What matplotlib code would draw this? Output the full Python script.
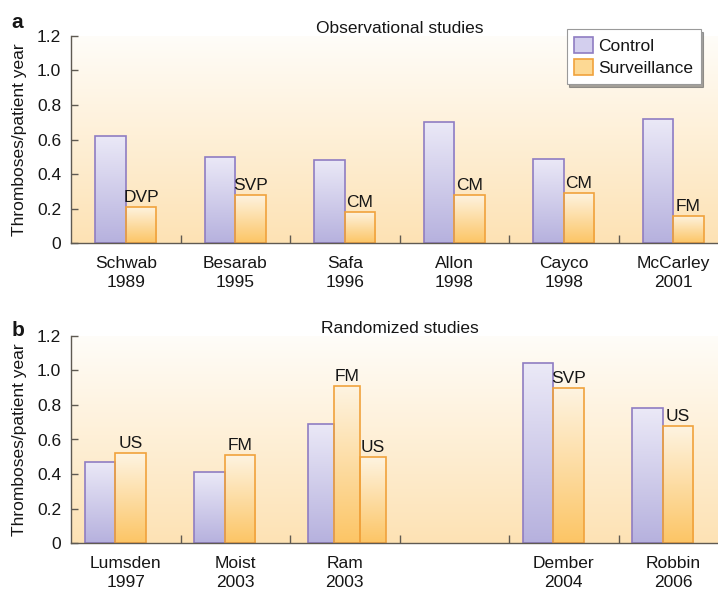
import numpy as np
import matplotlib
matplotlib.use("Agg")
import matplotlib.pyplot as plt
from matplotlib.colors import LinearSegmentedColormap
from matplotlib.patches import Patch

plt.rcParams['font.family'] = ['Liberation Sans', 'DejaVu Sans']

# ---------------- data ----------------
obs_studies = ['Schwab\n1989', 'Besarab\n1995', 'Safa\n1996', 'Allon\n1998', 'Cayco\n1998', 'McCarley\n2001']
obs_control = [0.62, 0.50, 0.48, 0.70, 0.49, 0.72]
obs_surv = [0.21, 0.28, 0.18, 0.28, 0.29, 0.16]
obs_method = ['DVP', 'SVP', 'CM', 'CM', 'CM', 'FM']

rand_studies = ['Lumsden\n1997', 'Moist\n2003', 'Ram\n2003', '', 'Dember\n2004', 'Robbin\n2006']
rand_control = [0.47, 0.41, 0.69, None, 1.04, 0.78]
rand_surv = [0.52, 0.51, 0.91, None, 0.90, 0.68]
rand_method = ['US', 'FM', 'FM', None, 'SVP', 'US']
rand_surv2 = [None, None, 0.50, None, None, None]
rand_method2 = [None, None, 'US', None, None, None]

yticks = [0, 0.2, 0.4, 0.6, 0.8, 1.0, 1.2]
ytick_labels = ['0', '0.2', '0.4', '0.6', '0.8', '1.0', '1.2']

# ---------------- style ----------------
CTRL_TOP, CTRL_BOT, CTRL_EDGE = '#ebe9f7', '#b6b1de', '#8f7dc2'
SURV_TOP, SURV_BOT, SURV_EDGE = '#fef4e2', '#fcc565', '#f0a23c'
BG_TOP, BG_BOT = '#fffdf9', '#fde2b4'
SPINE = '#5f5a52'
TXT = '#161616'
FS = 12.5


def grad_bar(ax, patch, top, bot):
    x, y = patch.get_x(), patch.get_y()
    w, h = patch.get_width(), patch.get_height()
    cmap = LinearSegmentedColormap.from_list('g', [bot, top])
    arr = np.linspace(0, 1, 256).reshape(-1, 1)
    im = ax.imshow(arr, extent=[x, x + w, y, y + h], origin='lower', cmap=cmap,
                   aspect='auto', zorder=2, interpolation='bilinear')
    im.set_clip_path(patch)
    patch.set_facecolor('none')
    patch.set_zorder(3)


def draw_bar(ax, x, h, w, top, bot, edge, label=None):
    bc = ax.bar([x], [h], width=w, edgecolor=edge, linewidth=1.2, zorder=3)
    grad_bar(ax, bc[0], top, bot)
    if label:
        ax.annotate(label, (x, h), xytext=(0, 1.5), textcoords='offset points',
                    ha='center', va='bottom', fontsize=FS, color=TXT, zorder=5)


def style_axes(ax, cats, title):
    cmap = LinearSegmentedColormap.from_list('bg', [BG_BOT, BG_TOP])
    arr = np.linspace(0, 1, 256).reshape(-1, 1)
    ax.imshow(arr, extent=[0, 1, 0, 1], transform=ax.transAxes, origin='lower',
              cmap=cmap, aspect='auto', zorder=0)
    ax.set_facecolor('white')
    n = len(cats)
    ax.set_xlim(-0.5, n - 0.5)
    ax.set_ylim(0, 1.2)
    for s in ['top', 'right']:
        ax.spines[s].set_visible(False)
    for s in ['left', 'bottom']:
        ax.spines[s].set_color(SPINE)
        ax.spines[s].set_linewidth(1.0)
        ax.spines[s].set_zorder(4)
    ax.set_yticks(yticks)
    ax.set_yticklabels(ytick_labels)
    ax.tick_params(axis='y', direction='in', length=5, width=1, color=SPINE,
                   labelsize=FS, labelcolor=TXT, pad=7)
    ax.set_xticks(np.arange(n - 1) + 0.5)
    ax.set_xticklabels([])
    ax.tick_params(axis='x', which='major', direction='in', length=6, width=1, color=SPINE)
    ax.set_xticks(np.arange(n), minor=True)
    ax.set_xticklabels(cats, minor=True, linespacing=1.35)
    ax.tick_params(axis='x', which='minor', length=0, labelsize=FS, labelcolor=TXT, pad=9)
    ax.set_title(title, fontsize=FS, color=TXT, pad=2)


fig = plt.figure(figsize=(7.18, 5.90), dpi=100)
W, H = 718.0, 590.0
ax_a = fig.add_axes([71 / W, 346.7 / H, 657 / W, 207.6 / H])
ax_b = fig.add_axes([71 / W, 46.7 / H, 657 / W, 207.6 / H])

# panel a
wa = 0.278
for i in range(len(obs_studies)):
    draw_bar(ax_a, i - wa / 2, obs_control[i], wa, CTRL_TOP, CTRL_BOT, CTRL_EDGE)
    draw_bar(ax_a, i + wa / 2, obs_surv[i], wa, SURV_TOP, SURV_BOT, SURV_EDGE, obs_method[i])
style_axes(ax_a, obs_studies, 'Observational studies')

# panel b
wb = 0.279
wb3 = 0.237
off2 = -0.095
off3 = 0.02
for i in range(len(rand_studies)):
    if rand_control[i] is None:
        continue
    if rand_surv2[i] is None:
        c = i + off2
        draw_bar(ax_b, c - wb / 2, rand_control[i], wb, CTRL_TOP, CTRL_BOT, CTRL_EDGE)
        draw_bar(ax_b, c + wb / 2, rand_surv[i], wb, SURV_TOP, SURV_BOT, SURV_EDGE, rand_method[i])
    else:
        c = i + off3
        draw_bar(ax_b, c - wb3, rand_control[i], wb3, CTRL_TOP, CTRL_BOT, CTRL_EDGE)
        draw_bar(ax_b, c, rand_surv[i], wb3, SURV_TOP, SURV_BOT, SURV_EDGE, rand_method[i])
        draw_bar(ax_b, c + wb3, rand_surv2[i], wb3, SURV_TOP, SURV_BOT, SURV_EDGE, rand_method2[i])
style_axes(ax_b, rand_studies, 'Randomized studies')

# y labels
for yc in [139.5, 439.5]:
    fig.text(20 / W, 1 - yc / H, 'Thromboses/patient year', rotation=90,
             ha='center', va='center', fontsize=FS, color=TXT)

# panel letters
fig.text(17 / W, 1 - 23 / H, 'a', fontsize=15, fontweight='bold', ha='center', va='center', color=TXT)
fig.text(18 / W, 1 - 331 / H, 'b', fontsize=15, fontweight='bold', ha='center', va='center', color=TXT)

# legend
handles = [Patch(facecolor='#d3cfee', edgecolor=CTRL_EDGE, linewidth=1.2, label='Control'),
           Patch(facecolor='#fdd994', edgecolor=SURV_EDGE, linewidth=1.2, label='Surveillance')]
leg = fig.legend(handles=handles, loc='upper right', bbox_to_anchor=(700.7 / W, 1 - 29.3 / H),
                 fontsize=FS, frameon=True, fancybox=False, shadow=True,
                 handlelength=1.05, handleheight=1.05, handletextpad=0.3,
                 labelspacing=0.3, borderpad=0.45, borderaxespad=0)
leg.get_frame().set_edgecolor('#9a9a9a')
leg.get_frame().set_linewidth(0.8)
for t in leg.get_texts():
    t.set_color(TXT)

fig.savefig('out.png', dpi=100)
